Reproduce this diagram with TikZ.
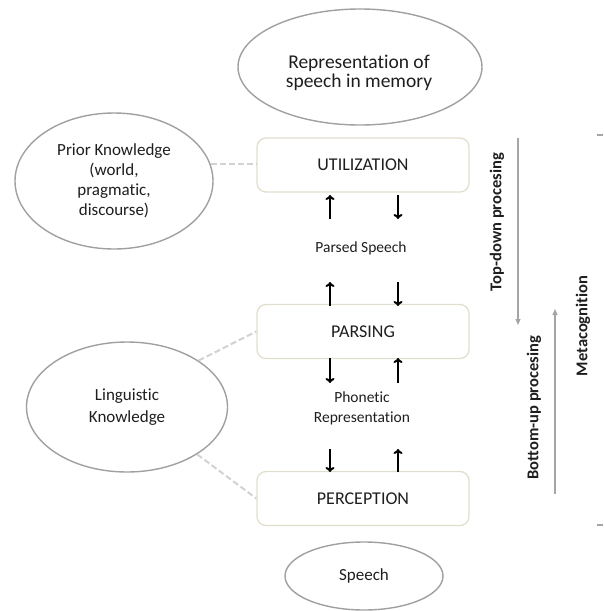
\documentclass[tikz,border=0pt]{standalone}
\usepackage{fontspec}
\setmainfont{Carlito}[Ligatures={NoCommon}]
\usetikzlibrary{shapes.geometric,arrows.meta}
\definecolor{txt}{RGB}{30,30,30}
\definecolor{ellline}{RGB}{160,160,160}
\definecolor{boxline}{RGB}{226,222,206}
\definecolor{dashline}{RGB}{210,210,210}
\definecolor{sidegray}{RGB}{165,165,165}
\tikzset{
  oval/.style={ellipse, draw=ellline, line width=1.4pt, inner sep=0pt, align=center, text=txt, font=\fontsize{17}{20}\selectfont},
  stagebox/.style={draw=boxline, line width=1.3pt, rounded corners=9pt, minimum width=212pt, minimum height=54pt, inner sep=0pt, text=txt, font=\fontsize{18}{21}\selectfont},
  midlabel/.style={align=center, text=txt, inner sep=0pt, font=\fontsize{15.5}{20}\selectfont},
  flowarrow/.style={line width=2pt, -{To[length=5pt,width=9pt]}},
  linkdash/.style={draw=dashline, line width=2pt, dash pattern=on 6pt off 3pt},
  sidearrow/.style={draw=sidegray, line width=1.2pt, -{Triangle[length=6pt,width=5pt]}},
  sidelabel/.style={rotate=90, text=txt, inner sep=0pt, font=\bfseries\fontsize{16.5}{19}\selectfont},
  tick/.style={draw=sidegray, line width=1.2pt}
}
\begin{document}
\begin{tikzpicture}[x=1pt,y=-1pt]
\useasboundingbox (0,0) rectangle (603,611);
% ovals
\node[oval, minimum width=244pt, minimum height=116pt] (mem) at (360,67) {};
\node[align=center, text=txt, inner sep=0pt, font=\fontsize{19.5}{19}\selectfont] (memtext) at (359,73) {Representation of\\speech in memory};
\node[oval, minimum width=198pt, minimum height=136pt] (prior) at (114,181) {Prior Knowledge\\(world,\\pragmatic,\\discourse)};
\node[oval, minimum width=201pt, minimum height=130pt, font=\fontsize{17}{22}\selectfont] (ling) at (127,407) {Linguistic\\Knowledge};
\node[oval, minimum width=158pt, minimum height=68pt] (speech) at (364,576) {Speech};
% stage boxes
\node[stagebox] (util) at (363,165) {UTILIZATION};
\node[stagebox] (pars) at (363,331.5) {PARSING};
\node[stagebox] (perc) at (363,498.5) {PERCEPTION};
% middle labels
\node[midlabel] (parsed) at (361,248) {Parsed Speech};
\node[midlabel] (phon) at (362,408) {Phonetic\\Representation};
% arrows between util and parsing
\coordinate (a1s) at (330,219); \coordinate (a1e) at (330,195);
\coordinate (a2s) at (398,195); \coordinate (a2e) at (398,219);
\coordinate (a3s) at (330,306); \coordinate (a3e) at (330,282);
\coordinate (a4s) at (398,282); \coordinate (a4e) at (398,306);
\draw[flowarrow] (a1s) -- (a1e);
\draw[flowarrow] (a2s) -- (a2e);
\draw[flowarrow] (a3s) -- (a3e);
\draw[flowarrow] (a4s) -- (a4e);
% arrows between parsing and perception
\coordinate (b1s) at (330,358); \coordinate (b1e) at (330,383);
\coordinate (b2s) at (398,383); \coordinate (b2e) at (398,358);
\coordinate (b3s) at (330,449); \coordinate (b3e) at (330,472);
\coordinate (b4s) at (398,472); \coordinate (b4e) at (398,449);
\draw[flowarrow] (b1s) -- (b1e);
\draw[flowarrow] (b2s) -- (b2e);
\draw[flowarrow] (b3s) -- (b3e);
\draw[flowarrow] (b4s) -- (b4e);
% dashed links
\draw[linkdash] (prior.10) -- (prior.10 -| util.west);
\draw[linkdash] (ling.33) -- (pars.west);
\draw[linkdash] (ling.-34) -- (perc.west);
% side arrows and labels
\coordinate (td1) at (518,138); \coordinate (td2) at (518,325);
\draw[sidearrow] (td1) -- (td2);
\coordinate (bu1) at (555,494); \coordinate (bu2) at (555,309);
\draw[sidearrow] (bu1) -- (bu2);
\node[sidelabel] (topdown) at (497,222) {Top-down procesing};
\node[sidelabel] (bottomup) at (534,408) {Bottom-up procesing};
\node[sidelabel] (meta) at (583,326) {Metacognition};
\coordinate (t1a) at (597,135); \coordinate (t1b) at (603,135);
\coordinate (t2a) at (597,525); \coordinate (t2b) at (603,525);
\draw[tick] (t1a) -- (t1b);
\draw[tick] (t2a) -- (t2b);
\end{tikzpicture}
\end{document}
